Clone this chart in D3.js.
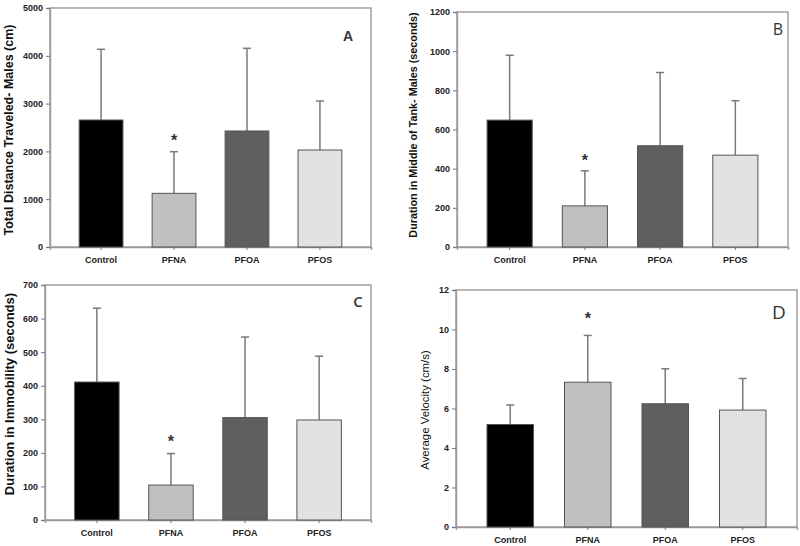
<!DOCTYPE html>
<html>
<head>
<meta charset="utf-8">
<script src="https://cdn.jsdelivr.net/npm/d3@7"></script>
<style>
  html, body { margin: 0; padding: 0; background: #fff; }
  svg { display: block; }
</style>
</head>
<body>
<svg id="chart" width="800" height="546"></svg>
<script>
// ---- Data ----
const categories = ["Control", "PFNA", "PFOA", "PFOS"];
const barColors = ["#000000", "#c0c0c0", "#5f5f5f", "#e2e2e2"];

const distanceMean = [2657, 1123, 2427, 2029];
const distanceErr  = [4136, 1994, 4157, 3054];
const distanceTicks = [0, 1000, 2000, 3000, 4000, 5000];

const middleMean = [648, 210, 517, 469];
const middleErr  = [979, 389, 891, 747];
const middleTicks = [0, 200, 400, 600, 800, 1000, 1200];

const immobMean = [411, 104, 305, 298];
const immobErr  = [631, 198, 545, 488];
const immobTicks = [0, 100, 200, 300, 400, 500, 600, 700];

const velocityMean = [5.19, 7.33, 6.24, 5.92];
const velocityErr  = [6.18, 9.70, 8.01, 7.52];
const velocityTicks = [0, 2, 4, 6, 8, 10, 12];

const significant = ["PFNA"];

// ---- Panels ----
const panels = [
  { mean: distanceMean, err: distanceErr, ticks: distanceTicks,
    box: {l: 50, r: 371, t: 8, b: 247},
    title: "Total Distance Traveled- Males (cm)", titleX: 9, titleY: 130, titleFont: "bold 12.5px 'Liberation Sans', Arial, sans-serif",
    letter: "A", lx: 348, ly: 41, lfont: "bold 14px 'Liberation Sans', Arial, sans-serif", starY: 138 },
  { mean: middleMean, err: middleErr, ticks: middleTicks,
    box: {l: 457, r: 788, t: 12, b: 247},
    title: "Duration in Middle of Tank- Males (seconds)", titleX: 413, titleY: 125, titleFont: "bold 10.8px 'Liberation Sans', Arial, sans-serif",
    letter: "B", lx: 778, ly: 35, lfont: "16px 'Open Sans', sans-serif", starY: 158 },
  { mean: immobMean, err: immobErr, ticks: immobTicks,
    box: {l: 45, r: 371, t: 285, b: 520},
    title: "Duration in Immobility (seconds)", titleX: 9, titleY: 394, titleFont: "bold 13px 'Liberation Sans', Arial, sans-serif",
    letter: "C", lx: 358, ly: 307, lfont: "600 15px 'Open Sans', sans-serif", starY: 439 },
  { mean: velocityMean, err: velocityErr, ticks: velocityTicks,
    box: {l: 456, r: 797, t: 290, b: 527},
    title: "Average Velocity (cm/s)", titleX: 425, titleY: 410, titleFont: "11.4px 'Liberation Sans', Arial, sans-serif",
    letter: "D", lx: 779, ly: 319, lfont: "19px 'Open Sans', sans-serif", starY: 316 }
];

const svg = d3.select("#chart");

panels.forEach(p => {
  const g = svg.append("g");
  const x = d3.scaleBand().domain(categories).range([p.box.l, p.box.r]).paddingInner(0.4).paddingOuter(0.4);
  const y = d3.scaleLinear().domain([p.ticks[0], p.ticks[p.ticks.length - 1]]).range([p.box.b, p.box.t]);

  // frame
  g.append("rect")
    .attr("x", p.box.l).attr("y", p.box.t)
    .attr("width", p.box.r - p.box.l).attr("height", p.box.b - p.box.t)
    .attr("fill", "none").attr("stroke", "#9a9a9a").attr("stroke-width", 1.4);

  // y axis
  const yAxis = d3.axisLeft(y).tickValues(p.ticks).tickSize(4).tickPadding(3).tickFormat(d3.format("d"));
  const ya = g.append("g").attr("transform", `translate(${p.box.l},0)`).call(yAxis);
  ya.select(".domain").attr("stroke", "#9a9a9a").attr("stroke-width", 1.4);
  ya.selectAll(".tick line").attr("stroke", "#777");
  ya.selectAll(".tick text").attr("fill", "#222")
    .style("font", "bold 9px 'Liberation Sans', Arial, sans-serif");

  // x axis
  const xAxis = d3.axisBottom(x).tickSize(3).tickPadding(7);
  const xa = g.append("g").attr("transform", `translate(0,${p.box.b})`).call(xAxis);
  xa.select(".domain").attr("stroke", "#9a9a9a").attr("stroke-width", 1.4);
  xa.selectAll(".tick line").attr("stroke", "#777");
  xa.selectAll(".tick text").attr("fill", "#222")
    .style("font", "bold 9px 'Liberation Sans', Arial, sans-serif");

  const data = categories.map((c, i) => ({ c, m: p.mean[i], e: p.err[i], color: barColors[i] }));

  // error bars (upper only)
  g.selectAll(".err").data(data).enter().append("line")
    .attr("x1", d => x(d.c) + x.bandwidth() / 2).attr("x2", d => x(d.c) + x.bandwidth() / 2)
    .attr("y1", d => y(d.m)).attr("y2", d => y(d.e))
    .attr("stroke", "#7a7a7a").attr("stroke-width", 1.5);
  g.selectAll(".cap").data(data).enter().append("line")
    .attr("x1", d => x(d.c) + x.bandwidth() / 2 - 4).attr("x2", d => x(d.c) + x.bandwidth() / 2 + 4)
    .attr("y1", d => y(d.e)).attr("y2", d => y(d.e))
    .attr("stroke", "#7a7a7a").attr("stroke-width", 1.5);

  // bars
  g.selectAll(".bar").data(data).enter().append("rect")
    .attr("x", d => x(d.c)).attr("width", x.bandwidth())
    .attr("y", d => y(d.m)).attr("height", d => y(0) - y(d.m))
    .attr("fill", d => d.color).attr("stroke", "#555").attr("stroke-width", 1);

  // significance star
  g.selectAll(".star").data(data.filter(d => significant.includes(d.c))).enter().append("text")
    .attr("x", d => x(d.c) + x.bandwidth() / 2).attr("y", p.starY + 8)
    .attr("text-anchor", "middle").attr("fill", "#333")
    .style("font", "bold 16px 'Liberation Sans', Arial, sans-serif")
    .text("*");

  // y title
  g.append("text")
    .attr("transform", `translate(${p.titleX},${p.titleY}) rotate(-90)`)
    .attr("text-anchor", "middle").attr("dominant-baseline", "central")
    .attr("fill", "#111")
    .style("font", p.titleFont)
    .text(p.title);

  // panel letter
  g.append("text")
    .attr("x", p.lx).attr("y", p.ly).attr("text-anchor", "middle")
    .attr("fill", "#333").style("font", p.lfont)
    .text(p.letter);
});
</script>
</body>
</html>
